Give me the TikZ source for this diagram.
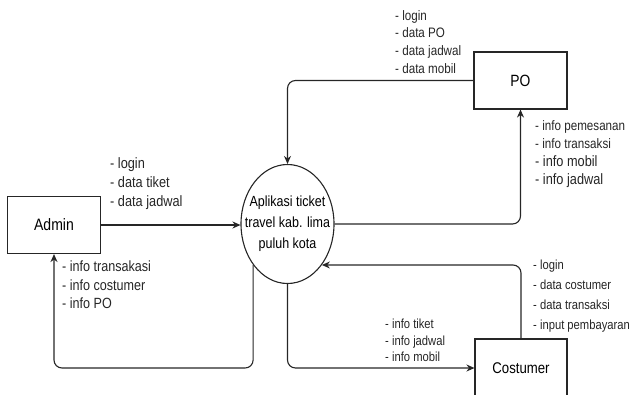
\documentclass[tikz,border=0pt]{standalone}
\usepackage{fontspec}
\setmainfont{Liberation Sans}[FakeStretch=0.85]
\usetikzlibrary{arrows.meta,shapes.geometric}
\tikzset{
  ln/.style={line width=1.1pt, draw=black!85},
  arr/.style={ln, -{Stealth[length=8pt,width=7pt]}, rounded corners=8pt},
  ent/.style={draw=black!85, line width=1.1pt, minimum width=93pt, minimum height=57pt, inner sep=0pt},
  lbl/.style={anchor=north west, inner sep=0pt, align=left, text=black!85},
}
\begin{document}
\begin{tikzpicture}[x=1pt,y=-1pt]
\clip (0,0) rectangle (634,394);
\useasboundingbox (0,0) rectangle (634,394);
% nodes
\node[ent, font=\fontsize{16.5}{18}\selectfont] (admin) at (54,225) {Admin};
\node[draw=black!85, line width=1.1pt, ellipse, minimum width=93pt, minimum height=119pt, inner xsep=-14pt, inner ysep=0pt, align=center,
      font=\fontsize{14.7}{21}\selectfont] (app) at (287.5,224) {Aplikasi ticket\\travel kab. lima\\puluh kota};
\node[ent, font=\fontsize{16.3}{18}\selectfont] (po) at (520.5,80.5) {PO};
\node[ent, minimum width=92pt, minimum height=58pt, font=\fontsize{15.5}{18}\selectfont] (cust) at (521,368) {Costumer};
% connectors
\draw[arr] (admin.east) -- (admin.east -| app.west);
\draw[arr] (po.west) -| (app.north);
\draw[arr] (app.east) -| (po.south);
\draw[arr] (cust.north) |- (app.-50.8);
\draw[arr] (app.south) |- (cust.west);
\draw[arr] (app.230.7) -- (app.230.7 |- cust.west) -| (admin.south);
% labels
\node[lbl, font=\fontsize{15}{19}\selectfont] (l1) at (110,157) {- login\\- data tiket\\- data jadwal};
\node[lbl, font=\fontsize{14.8}{18.5}\selectfont] (l2) at (62,261) {- info transakasi\\- info costumer\\- info PO};
\node[lbl, font=\fontsize{13.7}{17.7}\selectfont] (l3) at (395,10) {- login\\- data PO\\- data jadwal\\- data mobil};
\node[lbl, font=\fontsize{13.7}{18}\selectfont] (l4) at (535,120) {- info pemesanan\\- info transaksi\\\fontsize{15}{18}\selectfont - info mobil\\\fontsize{15}{18}\selectfont - info jadwal};
\node[lbl, font=\fontsize{13.2}{20}\selectfont] (l5) at (533,260) {- login\\- data costumer\\- data transaksi\\- input pembayaran};
\node[lbl, font=\fontsize{13.2}{16.5}\selectfont] (l6) at (385,319) {- info tiket\\- info jadwal\\- info mobil};
\end{tikzpicture}
\end{document}
